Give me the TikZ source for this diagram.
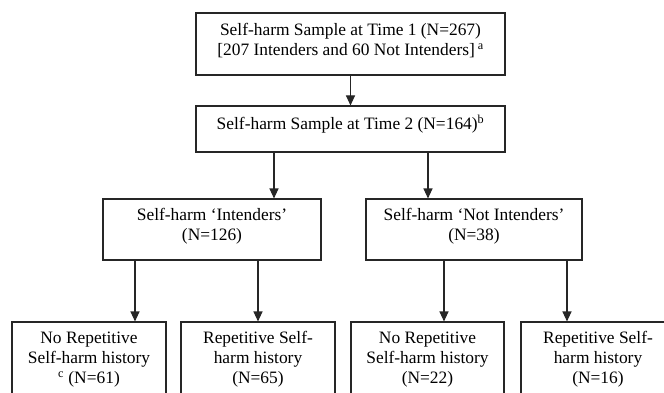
\documentclass[tikz,border=0pt]{standalone}
\usepackage{fontspec}
\setmainfont{Liberation Serif}
\usetikzlibrary{arrows.meta}
\begin{document}
\begin{tikzpicture}[x=1pt,y=-1pt,
  box/.style={draw=black!85, line width=1.1pt, inner sep=0pt},
  txt/.style={font=\fontsize{17.4}{20}\selectfont, align=center, anchor=north, inner sep=0pt},
  arr/.style={draw=black!85, line width=1.1pt, -{Triangle[length=10pt,width=9pt]}}]
\useasboundingbox (0,0) rectangle (664,393);
\clip (0,0) rectangle (664,393);
% boxes
\node[box, minimum width=309pt, minimum height=62pt] (b1) at (350.5,44) {};
\node[box, minimum width=309pt, minimum height=46pt] (b2) at (350.5,129) {};
\node[box, minimum width=218pt, minimum height=61pt] (int) at (212,229.5) {};
\node[box, minimum width=216pt, minimum height=61pt] (nint) at (474,229.5) {};
\node[box, minimum width=154pt, minimum height=100pt] (c1) at (89,372) {};
\node[box, minimum width=154pt, minimum height=100pt] (c2) at (258,372) {};
\node[box, minimum width=153pt, minimum height=100pt] (c3) at (427.5,372) {};
\node[box, minimum width=154pt, minimum height=100pt] (c4) at (598,372) {};
% texts
\node[txt] (t1) at ([yshift=-9pt]b1.north) {\strut Self-harm Sample at Time 1 (N=267)\\ {}[207 Intenders and 60 Not Intenders]\,\textsuperscript{a}};
\node[txt] (t2) at ([yshift=-9pt]b2.north) {\strut Self-harm Sample at Time 2 (N=164)\textsuperscript{b}};
\node[txt] (t3) at ([yshift=-8pt]int.north) {\strut Self-harm ‘Intenders’\\(N=126)};
\node[txt] (t4) at ([yshift=-8pt]nint.north) {\strut Self-harm ‘Not Intenders’\\(N=38)};
\node[txt] (t5) at ([yshift=-8pt]c1.north) {\strut No Repetitive\\Self-harm history\\\textsuperscript{c} (N=61)};
\node[txt] (t6) at ([yshift=-8pt]c2.north) {\strut Repetitive Self-\\harm history\\(N=65)};
\node[txt] (t7) at ([yshift=-8pt]c3.north) {\strut No Repetitive\\Self-harm history\\(N=22)};
\node[txt] (t8) at ([yshift=-8pt]c4.north) {\strut Repetitive Self-\\harm history\\(N=16)};
% connectors
\draw[arr] (b1.south) -- (b2.north);
\draw[arr] ([xshift=-76.5pt]b2.south) -- ([xshift=-76.5pt]b2.south |- int.north);
\draw[arr] ([xshift=77.5pt]b2.south) -- ([xshift=77.5pt]b2.south |- nint.north);
\draw[arr] ([xshift=-77pt]int.south) -- ([xshift=-77pt]int.south |- c1.north);
\draw[arr] ([xshift=46pt]int.south) -- ([xshift=46pt]int.south |- c2.north);
\draw[arr] ([xshift=-30pt]nint.south) -- ([xshift=-30pt]nint.south |- c3.north);
\draw[arr] ([xshift=93pt]nint.south) -- ([xshift=93pt]nint.south |- c4.north);
\end{tikzpicture}
\end{document}
